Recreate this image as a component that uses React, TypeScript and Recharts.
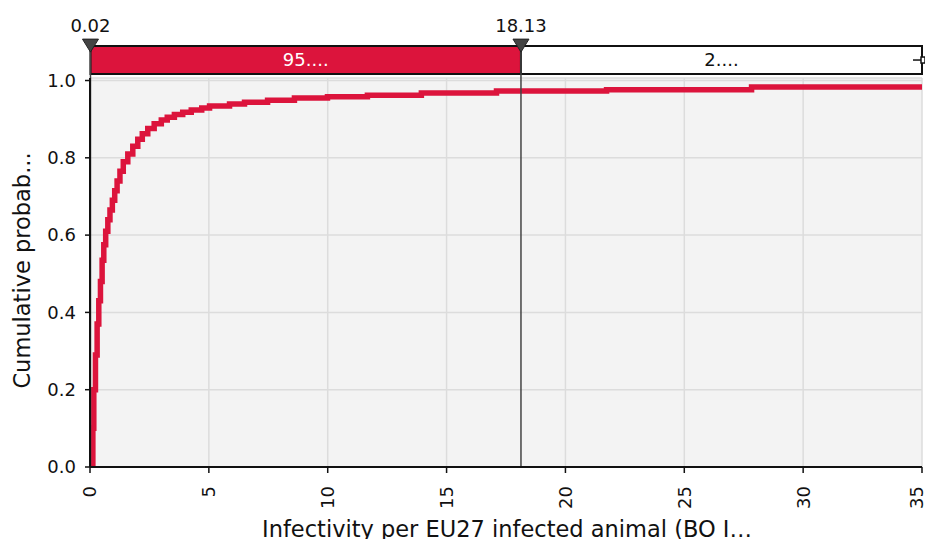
import {
  LineChart, Line, XAxis, YAxis, CartesianGrid,
  ReferenceArea, ReferenceLine, ReferenceDot,
} from "recharts";

// ── Data (cumulative distribution, step points) ───────────────────
const infectivity = [
  0.1, 0.12, 0.16, 0.23, 0.30, 0.37, 0.44, 0.51, 0.58, 0.66,
  0.75, 0.84, 0.94, 1.04, 1.14, 1.26, 1.4, 1.59, 1.8, 2.01,
  2.2, 2.43, 2.7, 3.0, 3.25, 3.55, 3.9, 4.26, 4.7, 5.03,
  5.87, 6.5, 7.47, 8.6, 9.99, 11.67, 13.94, 17.1, 21.73, 27.83, 35,
];
const cumulative = [
  0.0, 0.1, 0.2, 0.29, 0.37, 0.43, 0.48, 0.535, 0.575, 0.61,
  0.64, 0.665, 0.69, 0.715, 0.74, 0.765, 0.79, 0.81, 0.83, 0.848,
  0.862, 0.876, 0.888, 0.898, 0.905, 0.912, 0.918, 0.924, 0.929, 0.934,
  0.939, 0.944, 0.949, 0.955, 0.958, 0.962, 0.968, 0.973, 0.976, 0.983, 0.988,
];

const xTicks = [0, 5, 10, 15, 20, 25, 30, 35];
const yTicks = [0, 0.2, 0.4, 0.6, 0.8, 1.0];

// delimiter markers and band labels
const lowerMark = 0.02;
const upperMark = 18.13;
const xMax = 35;
const bandLabels = ["95....", "2...."];
// band sits just above the plot, in y-units
const BAND_BOTTOM = 1.017;
const BAND_TOP = 1.089;

const data = infectivity.map((x, i) => ({ x, p: cumulative[i] }));

const RED = "#dc143c";
const FONT = "DejaVu Sans";

// ── Rotated x tick ────────────────────────────────────────────────
const XTick = ({ x, y, payload }: any) => (
  <g transform={`translate(${x},${y})`}>
    <text
      transform="rotate(-90)"
      x={-11}
      y={0}
      dy="0.36em"
      textAnchor="end"
      fill="#111"
      fontSize={18}
      fontFamily={FONT}
    >
      {payload.value}
    </text>
  </g>
);

// ── Marker: triangle + value above the band ───────────────────────
const markerShape = (label: string) => (props: any) => {
  const { cx, cy } = props;
  return (
    <g>
      <text x={cx} y={cy - 14} textAnchor="middle" fontSize={18} fontFamily={FONT} fill="#111">
        {label}
      </text>
      <path d={`M${cx - 8},${cy - 7} L${cx + 8},${cy - 7} L${cx},${cy + 6} Z`} fill="#444" stroke="#222" strokeWidth={1} />
    </g>
  );
};

const handleShape = (props: any) => {
  const { cx, cy } = props;
  return (
    <g stroke="#111" strokeWidth={1.5} fill="#fff">
      <line x1={cx - 9} y1={cy} x2={cx - 1} y2={cy} />
      <rect x={cx - 1} y={cy - 3} width={4} height={6} />
    </g>
  );
};

export default function App() {
  return (
    <div style={{ position: "absolute", left: 0, top: 0, background: "#fff" }}>
      <LineChart
        width={925}
        height={539}
        data={data}
        margin={{ top: 78, right: 3, bottom: 0, left: 0 }}
      >
        <CartesianGrid stroke="#dcdcdc" strokeWidth={1.5} fill="#f3f3f3" />
        <XAxis
          dataKey="x"
          type="number"
          domain={[0, xMax]}
          ticks={xTicks}
          allowDataOverflow
          height={72}
          tick={<XTick />}
          tickSize={6}
          tickMargin={2}
          axisLine={{ stroke: "#111", strokeWidth: 2 }}
          tickLine={{ stroke: "#111", strokeWidth: 1.5 }}
          label={{
            content: ({ viewBox }: any) => (
              <text
                x={viewBox.x + viewBox.width / 2 + 1}
                y={viewBox.y + 69.5}
                textAnchor="middle"
                fontSize={22.5}
                fontFamily={FONT}
                fill="#111"
              >
                Infectivity per EU27 infected animal (BO I…
              </text>
            ),
          }}
        />
        <YAxis
          type="number"
          domain={[0, 1.0065]}
          ticks={yTicks}
          allowDataOverflow
          width={90}
          tickSize={5}
          tickMargin={9}
          tickFormatter={(v: number) => v.toFixed(1)}
          tick={{ fill: "#111", fontSize: 18, fontFamily: FONT }}
          axisLine={{ stroke: "#111", strokeWidth: 2 }}
          tickLine={{ stroke: "#111", strokeWidth: 1.5 }}
          label={{
            content: ({ viewBox }: any) => {
              const cx = viewBox.x + 22;
              const cy = viewBox.y + viewBox.height / 2 - 2;
              return (
                <text
                  x={cx}
                  y={cy}
                  transform={`rotate(-90, ${cx}, ${cy})`}
                  textAnchor="middle"
                  dominantBaseline="central"
                  fontSize={22.5}
                  fontFamily={FONT}
                  fill="#111"
                >
                  Cumulative probab...
                </text>
              );
            },
          }}
        />

        <Line
          type="stepAfter"
          dataKey="p"
          stroke={RED}
          strokeWidth={5.5}
          dot={false}
          isAnimationActive={false}
        />

        {/* delimiter lines */}
        <ReferenceLine
          segment={[{ x: lowerMark, y: 0 }, { x: lowerMark, y: BAND_TOP }]}
          stroke="#444"
          strokeWidth={1.5}
          ifOverflow="visible"
        />
        <ReferenceLine
          segment={[{ x: upperMark, y: 0 }, { x: upperMark, y: BAND_TOP }]}
          stroke="#444"
          strokeWidth={1.5}
          ifOverflow="visible"
        />

        {/* probability band */}
        <ReferenceArea
          x1={lowerMark}
          x2={upperMark}
          y1={BAND_BOTTOM}
          y2={BAND_TOP}
          fill={RED}
          fillOpacity={1}
          stroke="#111"
          strokeWidth={2}
          ifOverflow="visible"
          label={{ value: bandLabels[0], position: "center", fill: "#fff", fontSize: 18, fontFamily: FONT }}
        />
        <ReferenceArea
          x1={upperMark}
          x2={xMax}
          y1={BAND_BOTTOM}
          y2={BAND_TOP}
          fill="#fff"
          fillOpacity={1}
          stroke="#111"
          strokeWidth={2}
          ifOverflow="visible"
          label={{ value: bandLabels[1], position: "center", fill: "#111", fontSize: 18, fontFamily: FONT }}
        />

        <ReferenceDot
          x={xMax}
          y={(BAND_BOTTOM + BAND_TOP) / 2}
          ifOverflow="visible"
          shape={handleShape}
        />
        <ReferenceDot
          x={lowerMark}
          y={BAND_TOP}
          ifOverflow="visible"
          shape={markerShape(String(lowerMark))}
        />
        <ReferenceDot
          x={upperMark}
          y={BAND_TOP}
          ifOverflow="visible"
          shape={markerShape(String(upperMark))}
        />
      </LineChart>
    </div>
  );
}
